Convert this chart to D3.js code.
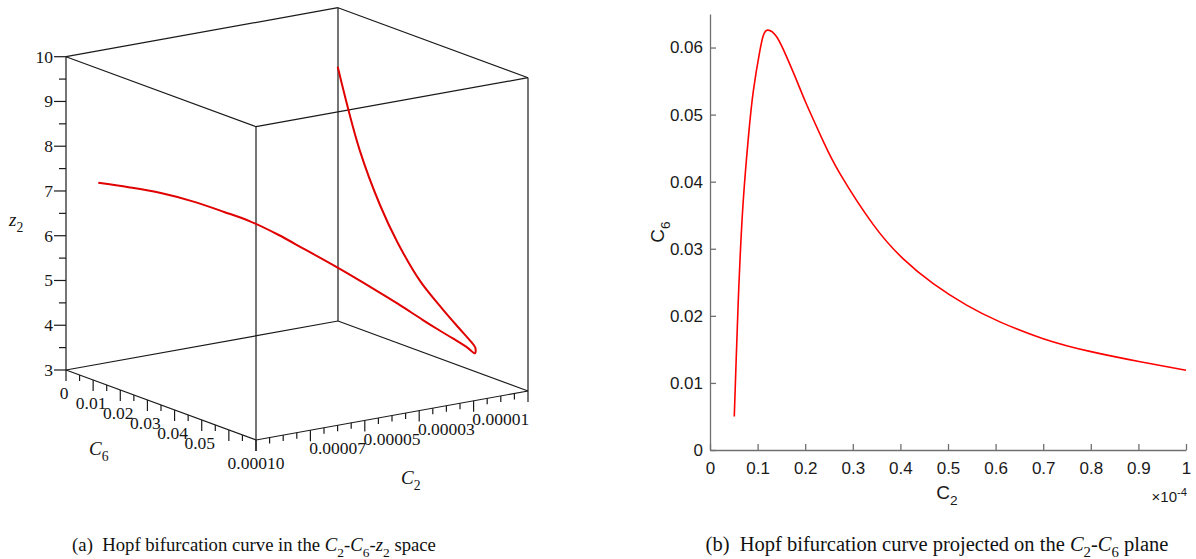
<!DOCTYPE html>
<html>
<head>
<meta charset="utf-8">
<script src="https://cdn.jsdelivr.net/npm/d3@7"></script>
<style>
  body { margin: 0; background: #fff; }
  svg { display: block; }
</style>
</head>
<body>
<div id="chart"></div>
<script>
const width = 1196, height = 559;

// Hopf bifurcation curve, C2 given in units of 1e-4
const c2 = [0.051, 0.055, 0.059, 0.063, 0.070, 0.0805, 0.091, 0.105, 0.112, 0.121, 0.140, 0.161, 0.182,
            0.203, 0.238, 0.273, 0.343, 0.406, 0.469, 0.539, 0.609, 0.700, 0.798, 0.901, 1.0];
const c6 = [0.0050, 0.0135, 0.0215, 0.0283, 0.0373, 0.0465, 0.0535, 0.0596, 0.0618, 0.0626, 0.0616, 0.0586, 0.0551,
            0.0515, 0.0460, 0.0412, 0.0336, 0.0285, 0.0248, 0.0216, 0.0191, 0.0166, 0.0147, 0.0132, 0.0119];
const z2 = [8.85, 7.18, 6.12, 5.45, 4.80, 4.40, 4.15, 3.98, 3.91, 3.81, 3.94, 4.09, 4.24,
            4.40, 4.67, 4.91, 5.34, 5.68, 6.00, 6.30, 6.53, 6.81, 7.06, 7.27, 7.45];

// 3d box ticks
const c2Ticks3d = d3.range(0, 21).map(i => i * 0.000005);
const c2Labels3d = [0.00001, 0.00003, 0.00005, 0.00007, 0.0001];
const c6Ticks3d = d3.range(0, 15).map(i => i * 0.005);
const c6Labels3d = [0, 0.01, 0.02, 0.03, 0.04, 0.05];
const zTicks3d = d3.range(0, 15).map(i => 3 + i * 0.5);
const zLabels3d = [3, 4, 5, 6, 7, 8, 9, 10];

// 2d plot ticks
const xTicks = [0, 0.1, 0.2, 0.3, 0.4, 0.5, 0.6, 0.7, 0.8, 0.9, 1];
const yTicks = [0, 0.01, 0.02, 0.03, 0.04, 0.05, 0.06];

const svg = d3.select("#chart")
  .append("svg")
  .attr("width", width)
  .attr("height", height);

svg.append("rect").attr("width", width).attr("height", height).attr("fill", "#fff");

// writes text made of parts: {t, i (italic), sub, sup}
function rich(text, parts, fs) {
  let shift = 0;
  parts.forEach(p => {
    const ts = text.append("tspan").text(p.t);
    if (p.i) ts.attr("font-style", "italic");
    let want = 0;
    if (p.sub) { want = fs * 0.3; ts.attr("font-size", fs * 0.72); }
    if (p.sup) { want = -fs * 0.4; ts.attr("font-size", fs * 0.75); }
    if (want !== shift) { ts.attr("dy", want - shift); shift = want; }
  });
}

// ================ (a) 3d view ==================
const serif = "'Liberation Serif', 'Times New Roman', serif";
const g3 = svg.append("g").attr("font-family", serif);

const zScale = d3.scaleLinear().domain([3, 10]).range([370, 56.7]);
const u6 = d3.scaleLinear().domain([0, 0.07]).range([0, 1]);
const u2 = d3.scaleLinear().domain([0.0001, 0]).range([0, 1]);
const ox = 66, e6 = [190, 70], e2 = [272, -49];

function proj(C2, C6, Z) {
  const a = u6(C6), b = u2(C2);
  return [ox + a * e6[0] + b * e2[0], zScale(Z) + a * e6[1] + b * e2[1]];
}

const c2Dom = [0.0001, 0], c6Dom = [0, 0.07], zDom = [3, 10];
const edges = [];
c6Dom.forEach(C6 => zDom.forEach(Z => edges.push([proj(c2Dom[0], C6, Z), proj(c2Dom[1], C6, Z)])));
c2Dom.forEach(C2 => zDom.forEach(Z => edges.push([proj(C2, c6Dom[0], Z), proj(C2, c6Dom[1], Z)])));
c2Dom.forEach(C2 => c6Dom.forEach(C6 => edges.push([proj(C2, C6, zDom[0]), proj(C2, C6, zDom[1])])));

g3.selectAll(".edge")
  .data(edges)
  .enter()
  .append("line")
  .classed("edge", true)
  .attr("x1", d => d[0][0]).attr("y1", d => d[0][1])
  .attr("x2", d => d[1][0]).attr("y2", d => d[1][1])
  .attr("stroke", "#1a1a1a")
  .attr("stroke-width", 1.2);

// z axis ticks
g3.selectAll(".ztick")
  .data(zTicks3d)
  .enter()
  .append("line")
  .attr("x1", d => proj(0.0001, 0, d)[0])
  .attr("x2", (d, i) => proj(0.0001, 0, d)[0] - (i % 2 === 0 ? 12 : 7))
  .attr("y1", d => proj(0.0001, 0, d)[1])
  .attr("y2", d => proj(0.0001, 0, d)[1])
  .attr("stroke", "#1a1a1a").attr("stroke-width", 1.2);

g3.selectAll(".zlab")
  .data(zLabels3d)
  .enter()
  .append("text")
  .attr("x", d => proj(0.0001, 0, d)[0] - 13)
  .attr("y", d => proj(0.0001, 0, d)[1] + 6)
  .attr("text-anchor", "end")
  .attr("font-size", 17.5)
  .attr("fill", "#151515")
  .text(d => d);

// C6 axis ticks
g3.selectAll(".c6tick")
  .data(c6Ticks3d)
  .enter()
  .append("line")
  .attr("x1", d => proj(0.0001, d, 3)[0])
  .attr("x2", d => proj(0.0001, d, 3)[0])
  .attr("y1", d => proj(0.0001, d, 3)[1])
  .attr("y2", (d, i) => proj(0.0001, d, 3)[1] + (i % 2 === 0 ? 11 : 6))
  .attr("stroke", "#1a1a1a").attr("stroke-width", 1.2);

g3.selectAll(".c6lab")
  .data(c6Labels3d)
  .enter()
  .append("text")
  .attr("x", d => proj(0.0001, d, 3)[0] - 2)
  .attr("y", d => proj(0.0001, d, 3)[1] + 29)
  .attr("text-anchor", "middle")
  .attr("font-size", 17.5)
  .attr("fill", "#151515")
  .text(d => d === 0 ? "0" : d3.format(".2f")(d));

// C2 axis ticks
g3.selectAll(".c2tick")
  .data(c2Ticks3d)
  .enter()
  .append("line")
  .attr("x1", d => proj(d, 0.07, 3)[0])
  .attr("x2", d => proj(d, 0.07, 3)[0])
  .attr("y1", d => proj(d, 0.07, 3)[1])
  .attr("y2", (d, i) => proj(d, 0.07, 3)[1] + (i % 4 === 0 ? 11 : 6))
  .attr("stroke", "#1a1a1a").attr("stroke-width", 1.2);

g3.selectAll(".c2lab")
  .data(c2Labels3d)
  .enter()
  .append("text")
  .attr("x", d => proj(d, 0.07, 3)[0])
  .attr("y", d => proj(d, 0.07, 3)[1] + 29)
  .attr("text-anchor", "middle")
  .attr("font-size", 17.5)
  .attr("fill", "#151515")
  .text(d => d3.format(".5f")(d));

// axis titles
rich(g3.append("text").attr("x", 89).attr("y", 455).attr("font-size", 19).attr("fill", "#151515"),
  [{t: "C", i: true}, {t: "6", sub: true}], 19);
rich(g3.append("text").attr("x", 401).attr("y", 484).attr("font-size", 19).attr("fill", "#151515"),
  [{t: "C", i: true}, {t: "2", sub: true}], 19);
rich(g3.append("text").attr("x", 9).attr("y", 226).attr("font-size", 19).attr("fill", "#151515"),
  [{t: "z", i: true}, {t: "2", sub: true}], 19);

// curve
const pts3d = c2.map((d, i) => proj(d * 1e-4, c6[i], z2[i]));
g3.append("path")
  .datum(pts3d)
  .attr("d", d3.line().curve(d3.curveCatmullRom.alpha(0.5)))
  .attr("fill", "none")
  .attr("stroke", "#e00000")
  .attr("stroke-width", 2);

// ================ (b) projection ==================
const sans = "'Liberation Sans Narrow', 'Liberation Sans', Arial, sans-serif";
const g2 = svg.append("g").attr("font-family", sans);

const x = d3.scaleLinear().domain([0, 1]).range([710, 1186]);
const y = d3.scaleLinear().domain([0, 0.065]).range([450, 14]);

const xAxis = g2.append("g")
  .attr("transform", "translate(0,450)")
  .call(d3.axisBottom(x).tickValues(xTicks).tickFormat(d3.format("~g"))
    .tickSizeInner(-6).tickSizeOuter(0).tickPadding(12));

const yAxis = g2.append("g")
  .attr("transform", "translate(710,0)")
  .call(d3.axisLeft(y).tickValues(yTicks).tickFormat(d3.format("~g"))
    .tickSizeInner(-6).tickSizeOuter(0).tickPadding(7));

[xAxis, yAxis].forEach(a => {
  a.selectAll("path, line").attr("stroke", "#707070").attr("stroke-width", 1.3);
  a.selectAll("text").attr("font-size", 17).attr("fill", "#1a1a1a").attr("font-family", sans);
});

g2.append("path")
  .datum(c2.map((d, i) => [d, c6[i]]))
  .attr("d", d3.line().x(d => x(d[0])).y(d => y(d[1])).curve(d3.curveNatural))
  .attr("fill", "none")
  .attr("stroke", "#ff0000")
  .attr("stroke-width", 1.6);

rich(g2.append("text").attr("x", 947).attr("y", 499).attr("text-anchor", "middle")
    .attr("font-size", 19).attr("fill", "#1a1a1a"),
  [{t: "C"}, {t: "2", sub: true}], 19);

rich(g2.append("text").attr("transform", "translate(664,232) rotate(-90)").attr("text-anchor", "middle")
    .attr("font-size", 19).attr("fill", "#1a1a1a"),
  [{t: "C"}, {t: "6", sub: true}], 19);

rich(g2.append("text").attr("x", 1187).attr("y", 502).attr("text-anchor", "end")
    .attr("font-size", 15).attr("fill", "#1a1a1a"),
  [{t: "\u00d710"}, {t: "-4", sup: true}], 15);

// ================ captions ==================
rich(svg.append("text").attr("x", 254).attr("y", 551).attr("text-anchor", "middle")
    .attr("font-family", serif).attr("font-size", 18.7).attr("fill", "#111").attr("xml:space", "preserve"),
  [{t: "(a)  Hopf bifurcation curve in the "}, {t: "C", i: true}, {t: "2", sub: true}, {t: "-"},
   {t: "C", i: true}, {t: "6", sub: true}, {t: "-"}, {t: "z", i: true}, {t: "2", sub: true}, {t: " space"}], 18.7);

rich(svg.append("text").attr("x", 937).attr("y", 551).attr("text-anchor", "middle")
    .attr("font-family", serif).attr("font-size", 20.5).attr("fill", "#111").attr("xml:space", "preserve"),
  [{t: "(b)  Hopf bifurcation curve projected on the "}, {t: "C", i: true}, {t: "2", sub: true}, {t: "-"},
   {t: "C", i: true}, {t: "6", sub: true}, {t: " plane"}], 20.5);
</script>
</body>
</html>
